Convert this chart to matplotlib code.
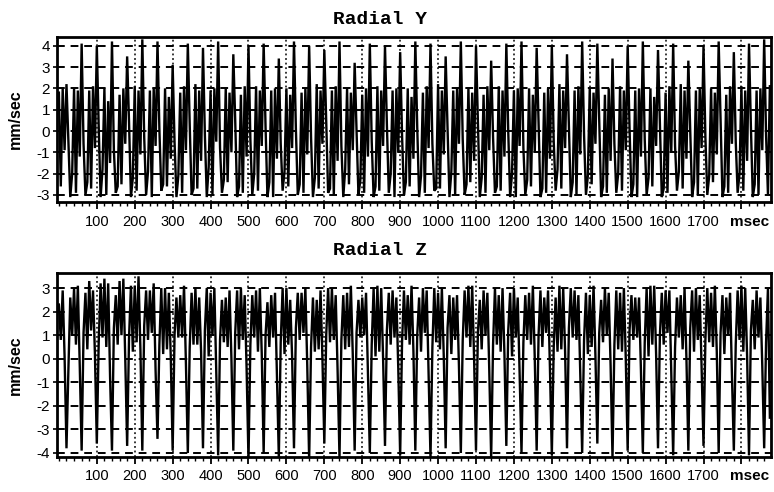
import numpy as np
import matplotlib
matplotlib.use("Agg")
import matplotlib.pyplot as plt
from matplotlib.ticker import MultipleLocator, FixedLocator, FixedFormatter
import matplotlib.transforms as mtrans

# ---- data (mm/sec), sampled every 5 ms starting at 0 ms ----
step_ms = 5
radial_y = [
    1.8, -2.6, 2.0, -0.9, 2.2, -0.4, -3.1, -2.0,
    2.0, -2.9, 1.9, -1.2, 4.1, -0.6, -3.0, -2.4,
    1.9, -2.7, 2.1, -0.8, 4.0, 0.2, -3.1, -1.8,
    2.0, -3.0, 1.4, -1.5, 4.2, -0.9, -2.9, -2.6,
    1.7, -2.5, 2.0, -0.6, 3.5, 0.4, -3.1, -2.2,
    2.1, -2.8, 1.9, -1.1, 4.3, -0.3, -3.0, -1.9,
    1.9, -3.1, 2.0, -0.7, 4.2, 0.1, -2.8, -2.5,
    2.0, -2.6, 1.6, -1.3, 3.1, -0.5, -3.1, -2.1,
    1.8, -2.9, 2.1, -0.9, 4.1, 0.3, -3.0, -2.7,
    2.2, -2.7, 1.9, -1.4, 3.9, -0.2, -3.1, -1.7,
    1.9, -3.0, 2.0, -0.5, 4.2, -0.8, -2.9, -2.3,
    2.0, -2.4, 1.8, -1.0, 3.6, 0.5, -3.1, -2.6,
    1.7, -2.9, 2.1, -1.2, 4.0, -0.4, -3.0, -2.0,
    2.1, -2.8, 1.9, -0.7, 4.1, 0.2, -3.1, -2.4,
    1.9, -3.1, 2.0, -1.3, 3.4, -0.6, -2.8, -1.9,
    2.0, -2.6, 1.7, -0.8, 4.2, 0.1, -3.0, -2.5,
    1.8, -2.9, 2.0, -1.1, 4.0, -0.3, -3.1, -2.2,
    2.2, -2.7, 1.9, -0.6, 3.8, 0.4, -2.9, -2.7,
    1.9, -3.0, 2.1, -1.4, 4.2, -0.7, -3.1, -1.8,
    2.0, -2.5, 1.8, -0.9, 3.2, 0.0, -3.0, -2.3,
    1.7, -2.9, 2.0, -1.2, 4.1, -0.5, -3.1, -2.6,
    2.1, -2.8, 1.9, -0.7, 4.0, 0.3, -2.9, -2.0,
    1.9, -3.1, 2.0, -1.0, 3.7, -0.2, -3.0, -2.4,
    2.0, -2.6, 1.6, -1.3, 4.2, 0.2, -3.1, -2.1,
    1.8, -2.9, 2.1, -0.8, 4.1, -0.6, -2.8, -2.7,
    2.2, -2.7, 1.9, -1.1, 3.5, 0.1, -3.1, -1.9,
    1.9, -3.0, 2.0, -0.6, 4.2, -0.4, -3.0, -2.5,
    2.0, -2.4, 1.8, -1.4, 4.0, 0.5, -3.1, -2.2,
    1.7, -2.9, 2.1, -0.9, 3.3, -0.3, -2.9, -2.6,
    2.1, -2.8, 1.9, -1.2, 4.1, 0.0, -3.1, -2.0,
    1.9, -3.1, 2.0, -0.7, 4.2, -0.8, -3.0, -2.3,
    2.0, -2.6, 1.7, -1.0, 3.9, 0.3, -3.1, -2.7,
    1.8, -2.9, 2.0, -1.3, 4.0, -0.5, -2.8, -1.8,
    2.2, -2.7, 1.9, -0.8, 3.6, 0.2, -3.1, -2.4,
    1.9, -3.0, 2.1, -1.1, 4.2, -0.2, -3.0, -2.1,
    2.0, -2.5, 1.8, -0.6, 4.1, 0.4, -3.1, -2.6,
    1.7, -2.9, 2.0, -1.4, 3.4, -0.6, -2.9, -2.0,
    2.1, -2.8, 1.9, -0.9, 4.0, 0.1, -3.1, -2.5,
    1.9, -3.1, 2.0, -1.2, 4.2, -0.4, -3.0, -2.2,
    2.0, -2.6, 1.6, -0.7, 3.8, 0.3, -3.1, -2.7,
    1.8, -2.9, 2.1, -1.0, 4.1, -0.7, -2.8, -1.9,
    2.2, -2.7, 1.9, -1.3, 3.3, 0.0, -3.1, -2.4,
    1.9, -3.0, 2.0, -0.8, 4.0, -0.3, -3.0, -2.1,
    2.0, -2.4, 1.8, -1.1, 4.2, 0.5, -3.1, -2.6,
    1.7, -2.9, 2.1, -0.6, 3.7, -0.5, -2.9, -2.0,
    2.1, -2.8, 1.9, -1.4, 4.1, 0.2, -3.1, -2.5,
    1.9, -3.0, 2.0, -0.9, 4.3, -0.2, -3.0, 2.1,
]
radial_z = [
    2.3, 0.8, 2.9, 0.1, -3.8, -0.5, 2.6, 1.0,
    3.0, 0.6, 3.1, -0.3, -3.9, 1.1, 2.8, 0.4,
    3.3, 1.2, 2.9, 0.2, -3.6, 0.7, 3.2, 0.9,
    3.4, 0.5, 3.2, -0.8, -3.9, 1.3, 2.7, 0.6,
    3.3, 1.0, 3.4, 0.0, -3.7, 0.9, 3.1, 0.3,
    3.1, 0.7, 3.5, 0.4, -3.9, 1.4, 2.9, 0.8,
    2.9, 1.1, 3.2, -0.5, -3.4, 0.6, 3.0, 0.2,
    3.0, 0.4, 2.8, 0.1, -3.9, 1.0, 2.6, 0.9,
    2.7, 0.9, 3.1, -0.2, -4.0, 0.5, 2.8, 0.6,
    3.0, 0.6, 2.6, 0.3, -3.8, 1.2, 3.0, 0.1,
    2.8, 1.0, 3.0, -0.6, -4.1, 0.8, 2.5, 0.7,
    2.6, 0.5, 2.9, 0.0, -3.9, 1.1, 2.9, 0.4,
    3.0, 0.8, 2.7, -0.4, -4.3, 0.6, 2.7, 0.9,
    2.9, 0.3, 3.0, 0.2, -4.0, 1.0, 2.4, 0.5,
    2.7, 0.9, 2.8, -0.7, -4.2, 0.7, 3.0, 0.2,
    3.0, 0.6, 2.5, 0.1, -3.8, 1.3, 2.8, 0.8,
    2.8, 1.1, 3.0, -0.3, -4.3, 0.5, 2.6, 0.3,
    2.5, 0.4, 2.9, 0.0, -3.6, 1.0, 3.0, 0.7,
    3.0, 0.8, 2.7, -0.5, -4.2, 0.8, 2.7, 0.4,
    2.8, 0.5, 3.1, 0.2, -3.9, 1.1, 2.5, 0.9,
    2.6, 1.0, 2.8, -0.6, -4.0, 0.6, 3.0, 0.1,
    3.1, 0.3, 3.0, 0.0, -3.7, 1.2, 2.8, 0.6,
    2.9, 0.9, 2.6, -0.4, -4.1, 0.7, 2.9, 0.8,
    2.7, 0.6, 3.1, 0.3, -3.9, 1.0, 2.6, 0.3,
    3.0, 1.1, 2.9, -0.7, -4.2, 0.5, 3.0, 0.7,
    2.8, 0.4, 3.0, 0.1, -3.8, 1.3, 2.7, 0.2,
    2.6, 0.8, 2.7, -0.3, -4.0, 0.8, 2.9, 0.9,
    3.1, 0.5, 3.1, 0.0, -3.9, 1.1, 2.5, 0.4,
    2.9, 1.0, 2.8, -0.5, -4.2, 0.6, 3.0, 0.6,
    2.7, 0.3, 3.0, 0.2, -3.7, 1.2, 2.8, 0.1,
    3.0, 0.9, 2.6, -0.6, -4.0, 0.7, 2.7, 0.8,
    2.8, 0.6, 3.1, 0.0, -3.9, 1.0, 2.9, 0.5,
    2.6, 1.1, 2.9, -0.4, -4.1, 0.5, 2.6, 0.3,
    3.1, 0.4, 3.0, 0.3, -3.8, 1.3, 3.0, 0.9,
    2.9, 0.8, 2.7, -0.7, -4.0, 0.8, 2.8, 0.2,
    2.7, 0.5, 3.1, 0.1, -3.6, 1.1, 2.5, 0.7,
    3.0, 1.0, 2.8, -0.3, -4.2, 0.6, 2.9, 0.4,
    2.8, 0.3, 3.0, 0.0, -3.9, 1.2, 2.7, 0.8,
    2.6, 0.9, 2.6, -0.5, -4.0, 0.7, 3.0, 0.1,
    3.1, 0.6, 3.1, 0.2, -3.8, 1.0, 2.8, 0.6,
    2.9, 1.1, 2.9, -0.6, -4.1, 0.5, 2.6, 0.9,
    2.7, 0.4, 3.0, 0.0, -3.9, 1.3, 2.9, 0.3,
    3.0, 0.8, 2.7, -0.4, -3.7, 0.8, 3.0, 0.7,
    2.8, 0.5, 3.1, 0.3, -4.0, 1.1, 2.7, 0.2,
    2.6, 1.0, 2.8, -0.7, -3.9, 0.6, 2.9, 0.8,
    3.1, 0.3, 3.0, 0.1, -4.1, 1.2, 2.5, 0.4,
    2.9, 0.9, 2.6, -0.3, -3.8, 0.7, 3.0, -2.5,
]
titles = ["Radial Y", "Radial Z"]
x_tick_values = [100, 200, 300, 400, 500, 600, 700, 800, 900, 1000,
                 1100, 1200, 1300, 1400, 1500, 1600, 1700, 1800]
x_tick_labels = ["100", "200", "300", "400", "500", "600", "700", "800", "900",
                 "1000", "1100", "1200", "1300", "1400", "1500", "1600", "1700", ""]
y_ticks_top = [-3, -2, -1, 0, 1, 2, 3, 4]
y_ticks_bottom = [-4, -3, -2, -1, 0, 1, 2, 3]

W, H = 774, 492
fig = plt.figure(figsize=(W / 100, H / 100), dpi=100)

def fx(px):
    return px / W

def fy(py):
    return 1 - py / H

ax_specs = [
    (57, 37, 771, 202, (-3.33, 4.41), y_ticks_top, radial_y, 19),
    (57, 273, 771, 457, (-4.17, 3.64), y_ticks_bottom, radial_z, 250),
]

for (l, t, r, b, ylim, yt, series, title_y), title in zip(ax_specs, titles):
    ax = fig.add_axes([fx(l), fy(b), fx(r) - fx(l), fy(t) - fy(b)])
    tms = np.arange(len(series)) * step_ms
    ax.plot(tms, series, color="black", lw=1.7, solid_joinstyle="miter", zorder=3)
    ax.set_xlim(-5, 1878)
    ax.set_ylim(*ylim)
    # grid
    for v in yt:
        ax.axhline(v, color="black", lw=1.4, ls=(0, (4, 3)), zorder=2)
    for v in x_tick_values:
        ax.axvline(v, color="black", lw=1.1, ls=(0, (1.2, 1.8)), zorder=2)
    ax.xaxis.set_major_locator(FixedLocator(x_tick_values))
    ax.xaxis.set_major_formatter(FixedFormatter(x_tick_labels))
    ax.xaxis.set_minor_locator(MultipleLocator(20))
    ax.set_yticks(yt)
    ax.set_yticklabels([str(v) for v in yt])
    ax.tick_params(axis="x", which="major", direction="out", length=5, width=1.3,
                   labelsize=10.5, pad=4)
    ax.tick_params(axis="x", which="minor", direction="out", length=3, width=1.0)
    ax.tick_params(axis="y", which="major", direction="out", length=3, width=1.2,
                   labelsize=11, pad=2)
    for lab in ax.get_xticklabels() + ax.get_yticklabels():
        lab.set_fontfamily("Liberation Sans")
    for s in ax.spines.values():
        s.set_linewidth(2.0)
    ax.set_ylabel("mm/sec", fontsize=11.5, fontweight="bold", family="Liberation Sans",
                  labelpad=10)
    ax.text(1822, ylim[0], "msec", fontsize=11, fontweight="bold",
            family="Liberation Sans", ha="center", va="top",
            transform=ax.transData + mtrans.ScaledTranslation(0, -9 / 72, fig.dpi_scale_trans))
    fig.text(fx(380), fy(title_y), title, fontsize=14, fontweight="bold",
             family="Liberation Mono", ha="center", va="center")

fig.savefig("out.png", dpi=100)
